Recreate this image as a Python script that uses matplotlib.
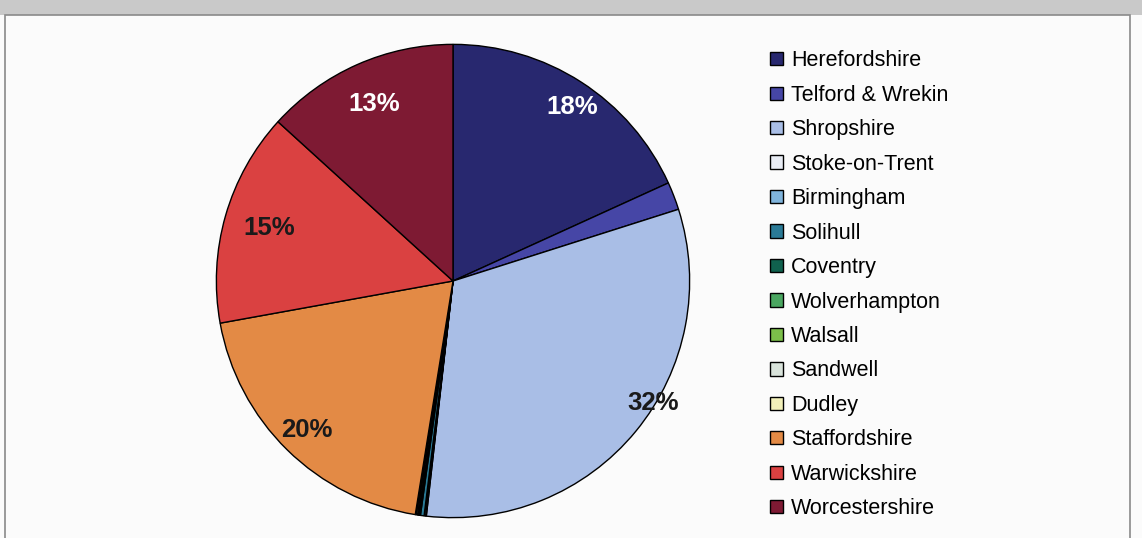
import numpy as np
import matplotlib.pyplot as plt
from matplotlib.patches import Rectangle

plt.rcParams['font.family'] = ['Liberation Sans', 'DejaVu Sans']

areas = ['Herefordshire', 'Telford & Wrekin', 'Shropshire', 'Stoke-on-Trent',
         'Birmingham', 'Solihull', 'Coventry', 'Wolverhampton', 'Walsall',
         'Sandwell', 'Dudley', 'Staffordshire', 'Warwickshire', 'Worcestershire']
shares = [18.2, 1.9, 31.7, 0.05, 0.1, 0.25, 0.1, 0.05, 0.05, 0.1, 0.05, 19.6, 14.6, 13.25]
colors = ['#28286f', '#4646a6', '#a9bee6', '#e9edf5', '#80b4dc', '#2a7a96',
          '#10614e', '#4aa660', '#7cbf4a', '#d9e3db', '#f2f0b9', '#e38a45',
          '#da4141', '#7e1a33']

fig = plt.figure(figsize=(11.42, 5.38), dpi=100)
fig.patch.set_facecolor('#fbfbfb')

# grey scan strip along top and frame
fig.add_artist(Rectangle((0, 1 - 15/538), 1, 15/538, transform=fig.transFigure,
                         facecolor='#c9c9c9', edgecolor='none'))
fig.add_artist(Rectangle((5/1142, -0.01), 1125/1142, 1 - 15/538 + 0.01,
                         transform=fig.transFigure, facecolor='none',
                         edgecolor='#8a8a8a', linewidth=1.2))

cx, cy, r = 453, 538 - 281, 239
ax = fig.add_axes([(cx - r)/1142, (cy - r)/538, 2*r/1142, 2*r/538])

def pct(p):
    return '%.0f%%' % p if p > 5 else ''

wedges, texts, autotexts = ax.pie(shares, colors=colors, startangle=90,
                                  counterclock=False, autopct=pct,
                                  wedgeprops=dict(edgecolor='black', linewidth=1.0))
ax.set_xlim(-1.01, 1.01)
ax.set_ylim(-1.01, 1.01)
ax.set_aspect('equal')
ax.axis('off')

# label radii/colours as in the original (best-fit placement)
lab_r = {0: 0.89, 2: 0.99, 11: 0.88, 12: 0.81, 13: 0.82}
lab_c = {0: 'white', 13: 'white'}
for i, (w, t) in enumerate(zip(wedges, autotexts)):
    if not t.get_text():
        continue
    ang = np.deg2rad((w.theta1 + w.theta2) / 2)
    rr = lab_r.get(i, 0.85)
    if i == 0:
        ang = np.deg2rad(55.5)
    if i == 2:
        ang = np.deg2rad(-31.5)
    t.set_position((rr * np.cos(ang), rr * np.sin(ang)))
    t.set_color(lab_c.get(i, '#1a1a1a'))
    t.set_fontsize(18.5)
    t.set_fontweight('bold')

leg = fig.legend(wedges, areas, loc='upper left', bbox_to_anchor=(751/1142, 1 - 31/538),
                 frameon=False, fontsize=15.5, handlelength=0.58, handleheight=0.58,
                 handletextpad=0.38, labelspacing=0.625)
for h in leg.legend_handles:
    h.set_linewidth(1.0)
    h.set_edgecolor('black')

fig.savefig('out.png', dpi=100, facecolor=fig.get_facecolor())
